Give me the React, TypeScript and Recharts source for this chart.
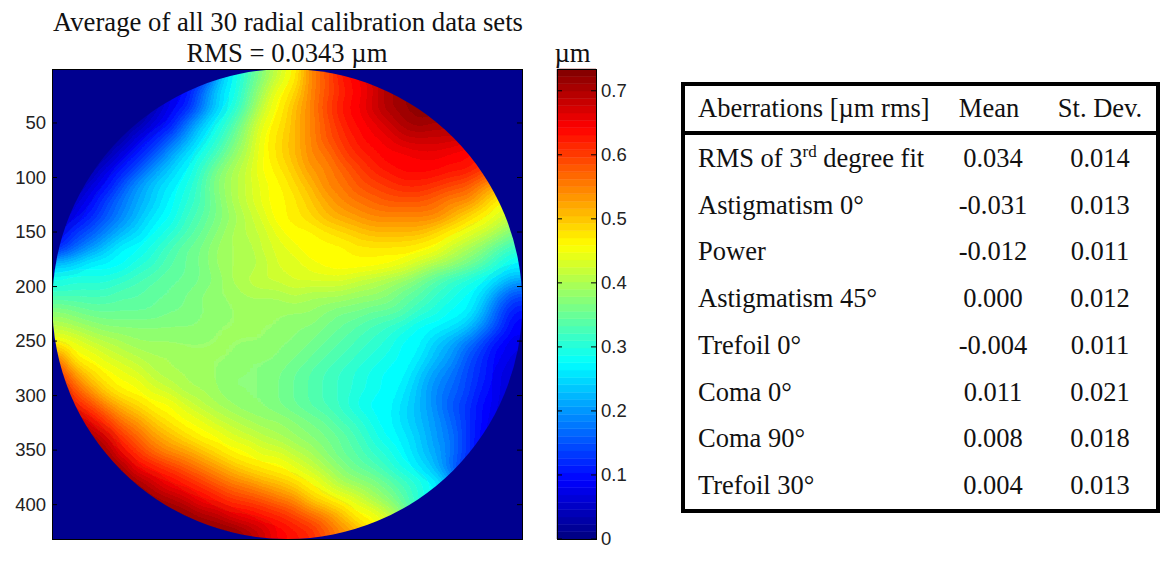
// App.tsx - radial calibration surface map, colorbar and aberrations table
import React from "react";
import { BarChart, Bar, CartesianGrid, ScatterChart, Scatter, XAxis, YAxis } from "recharts";

const SERIF = "'Liberation Serif', 'Times New Roman', serif";
const SANS = "'Liberation Sans', Arial, sans-serif";

const axisTicks = [50, 100, 150, 200, 250, 300, 350, 400];
const barTicks = [0, 0.1, 0.2, 0.3, 0.4, 0.5, 0.6, 0.7];
const MAX_UM = 0.734;
const MAX_PX = 431;

// surface height in um on a 30x30 grid, top row first.
// cells outside the aperture repeat the nearest rim value, the disk clip hides them.
const r00 = [.02,.02,.02,.02,.02,.02,.02,.03,.05,.10,.20,.27,.33,.37,.42,.47,.55,.58,.62,.65,.68,.70,.72,.73,.73,.73,.73,.73,.73,.73];
const r01 = [.02,.02,.02,.02,.02,.02,.03,.06,.10,.17,.23,.28,.34,.39,.45,.49,.54,.58,.61,.64,.67,.70,.72,.73,.73,.73,.73,.73,.73,.73];
const r02 = [.02,.02,.02,.02,.02,.02,.03,.07,.11,.17,.24,.29,.35,.42,.47,.51,.55,.59,.62,.65,.68,.70,.72,.73,.73,.73,.73,.73,.73,.73];
const r03 = [.02,.02,.02,.02,.02,.02,.06,.10,.17,.22,.28,.33,.38,.44,.48,.51,.55,.58,.61,.64,.66,.68,.70,.72,.71,.70,.70,.70,.70,.70];
const r04 = [.02,.02,.02,.02,.02,.07,.11,.16,.20,.26,.30,.35,.40,.45,.485,.51,.55,.58,.60,.63,.65,.665,.68,.685,.685,.68,.67,.66,.66,.66];
const r05 = [.02,.02,.02,.02,.07,.11,.16,.20,.25,.29,.33,.37,.41,.45,.485,.51,.54,.56,.59,.61,.63,.645,.65,.655,.655,.65,.64,.62,.60,.60];
const r06 = [.02,.02,.02,.07,.11,.16,.20,.24,.27,.31,.36,.39,.42,.45,.475,.50,.53,.55,.57,.59,.61,.63,.64,.64,.635,.63,.62,.60,.58,.56];
const r07 = [.02,.02,.06,.10,.15,.20,.24,.26,.29,.33,.37,.40,.42,.445,.465,.49,.515,.54,.56,.58,.59,.60,.61,.61,.605,.595,.58,.55,.52,.50];
const r08 = [.02,.05,.09,.14,.18,.21,.24,.27,.30,.33,.36,.39,.415,.44,.46,.48,.50,.525,.545,.56,.57,.58,.58,.58,.57,.55,.54,.51,.47,.44];
const r09 = [.04,.07,.12,.16,.19,.22,.26,.285,.31,.34,.365,.385,.41,.435,.46,.475,.49,.505,.52,.535,.545,.55,.55,.55,.54,.52,.49,.46,.43,.41];
const r10 = [.08,.13,.16,.19,.22,.25,.28,.305,.33,.35,.375,.39,.405,.42,.445,.46,.47,.48,.49,.50,.51,.515,.515,.505,.49,.47,.445,.42,.39,.36];
const r11 = [.12,.17,.20,.24,.265,.285,.305,.325,.345,.36,.38,.39,.40,.415,.43,.445,.46,.465,.47,.48,.48,.48,.475,.465,.45,.42,.40,.37,.34,.31];
const r12 = [.24,.25,.27,.275,.285,.305,.32,.335,.35,.365,.38,.39,.40,.41,.425,.435,.445,.455,.46,.46,.46,.455,.44,.42,.40,.38,.36,.34,.30,.27];
const r13 = [.29,.30,.30,.305,.315,.325,.335,.345,.355,.365,.375,.39,.405,.415,.42,.425,.43,.43,.425,.42,.41,.395,.38,.36,.34,.32,.30,.28,.25,.21];
const r14 = [.33,.33,.33,.33,.335,.34,.35,.355,.365,.37,.38,.385,.39,.395,.40,.405,.40,.395,.39,.385,.38,.37,.355,.335,.315,.30,.28,.245,.19,.14];
const r15 = [.37,.36,.35,.345,.345,.35,.355,.36,.365,.37,.375,.38,.38,.385,.385,.385,.38,.375,.365,.36,.35,.345,.335,.32,.30,.285,.265,.22,.16,.11];
const r16 = [.41,.40,.385,.375,.37,.37,.37,.37,.375,.375,.38,.38,.38,.38,.38,.375,.37,.365,.35,.34,.33,.32,.305,.285,.275,.255,.23,.19,.14,.09];
const r17 = [.46,.44,.42,.405,.395,.385,.385,.38,.38,.38,.38,.38,.38,.38,.375,.37,.36,.35,.335,.325,.31,.30,.285,.275,.24,.21,.18,.145,.10,.07];
const r18 = [.56,.47,.45,.435,.42,.405,.395,.39,.385,.38,.38,.38,.375,.375,.37,.365,.355,.34,.325,.315,.305,.295,.285,.26,.225,.195,.16,.125,.09,.06];
const r19 = [.60,.53,.49,.465,.445,.43,.41,.40,.39,.385,.38,.375,.375,.37,.365,.355,.34,.325,.315,.305,.295,.285,.27,.235,.205,.175,.145,.115,.08,.05];
const r20 = [.68,.58,.53,.49,.47,.45,.43,.415,.40,.39,.38,.375,.375,.37,.365,.355,.34,.325,.31,.30,.29,.28,.26,.225,.19,.165,.14,.105,.08,.05];
const r21 = [.72,.63,.59,.54,.51,.485,.465,.45,.43,.41,.395,.385,.375,.37,.365,.355,.34,.325,.31,.295,.285,.275,.25,.22,.19,.16,.13,.095,.07,.03];
const r22 = [.74,.72,.65,.60,.56,.53,.50,.475,.455,.44,.42,.405,.395,.385,.38,.37,.36,.345,.33,.315,.295,.275,.25,.22,.195,.165,.13,.095,.06,.03];
const r23 = [.74,.74,.72,.67,.60,.57,.535,.51,.485,.465,.45,.43,.42,.405,.395,.385,.375,.36,.345,.325,.30,.28,.255,.23,.205,.175,.135,.09,.06,.03];
const r24 = [.74,.74,.74,.72,.65,.60,.57,.55,.53,.51,.49,.47,.45,.435,.425,.405,.39,.375,.355,.335,.32,.30,.27,.24,.21,.175,.13,.09,.06,.03];
const r25 = [.74,.74,.74,.74,.72,.645,.62,.60,.58,.555,.53,.51,.49,.475,.46,.44,.42,.395,.375,.355,.34,.32,.29,.255,.22,.17,.12,.09,.06,.03];
const r26 = [.74,.74,.74,.74,.74,.72,.68,.645,.62,.60,.58,.56,.545,.525,.505,.485,.465,.43,.40,.385,.37,.35,.325,.30,.27,.21,.12,.09,.06,.03];
const r27 = [.74,.74,.74,.74,.74,.74,.72,.71,.68,.65,.63,.605,.59,.575,.56,.54,.50,.48,.45,.425,.395,.375,.34,.30,.27,.21,.12,.09,.06,.03];
const r28 = [.74,.74,.74,.74,.74,.74,.74,.74,.73,.71,.69,.66,.645,.625,.61,.59,.565,.54,.505,.47,.45,.42,.37,.30,.27,.21,.12,.09,.06,.03];
const r29 = [.74,.74,.74,.74,.74,.74,.74,.74,.74,.74,.74,.73,.70,.68,.65,.63,.61,.58,.55,.52,.48,.44,.38,.30,.27,.21,.12,.09,.06,.03];
const surface = [r00,r01,r02,r03,r04,r05,r06,r07,r08,r09,r10,r11,r12,r13,r14,r15,r16,r17,r18,r19,r20,r21,r22,r23,r24,r25,r26,r27,r28,r29];

const rowNames = [
  "Astigmatism 0°",
  "Power",
  "Astigmatism 45°",
  "Trefoil 0°",
  "Coma 0°",
  "Coma 90°",
  "Trefoil 30°",
];
const means = ["0.034", "-0.031", "-0.012", "0.000", "-0.004", "0.011", "0.008", "0.004"];
const stDevs = ["0.014", "0.013", "0.011", "0.012", "0.011", "0.021", "0.018", "0.013"];

const N = surface.length;
const points = surface.flatMap((vals, row) =>
  vals.map((v, col) => ({
    x: 0.5 + ((col + 0.5) * MAX_PX) / N,
    y: 0.5 + ((row + 0.5) * MAX_PX) / N,
    v,
    col,
    row,
  }))
);

// jet, 64 steps like the matlab default
function jet(v: number) {
  const level = Math.min(63, Math.max(0, Math.floor((v / MAX_UM) * 64)));
  const t = (level + 0.5) / 64;
  const ch = (c: number) => Math.round(255 * Math.max(0, Math.min(1, 1.5 - Math.abs(4 * t - c))));
  return `rgb(${ch(3)},${ch(2)},${ch(1)})`;
}

const colorLevels = Array.from({ length: 64 }, (_, i) => `l${i}`);
const colorbarRow = [Object.fromEntries(colorLevels.map((k) => [k, MAX_UM / 64]))];

// 16 steps per channel ramp gives the contour bands of the 64 level colormap
const bandTable = Array.from({ length: 17 }, (_, i) => (i / 16).toFixed(4)).join(" ");

const PLOT = { left: 52, top: 69, size: 470 };
const CELL = PLOT.size / N;

function HeatCell(props: any) {
  const { cx, cy, payload } = props;
  const { col, row, v } = payload;
  // edge cells run on past the frame so the blur does not fade at the rim
  const x0 = cx - CELL / 2 - 0.5 - (col === 0 ? 30 : 0);
  const x1 = cx + CELL / 2 + 0.5 + (col === N - 1 ? 30 : 0);
  const y0 = cy - CELL / 2 - 0.5 - (row === 0 ? 30 : 0);
  const y1 = cy + CELL / 2 + 0.5 + (row === N - 1 ? 30 : 0);
  return <rect x={x0} y={y0} width={x1 - x0} height={y1 - y0} fill={jet(v)} />;
}

function BottomTick(props: any) {
  const { x, y, payload } = props;
  return (
    <g>
      <line x1={x} x2={x} y1={y} y2={y - 5} stroke="#000" />
      <line x1={x} x2={x} y1={y - PLOT.size} y2={y - PLOT.size + 5} stroke="#000" />
      <text x={x} y={y + 22} textAnchor="middle" fontFamily={SANS} fontSize={18.5} fill="#222">
        {payload.value}
      </text>
    </g>
  );
}

function LeftTick(props: any) {
  const { x, y, payload } = props;
  return (
    <g>
      <line x1={x} x2={x + 5} y1={y} y2={y} stroke="#000" />
      <line x1={x + PLOT.size} x2={x + PLOT.size - 5} y1={y} y2={y} stroke="#000" />
      <text x={x - 6} y={y + 6} textAnchor="end" fontFamily={SANS} fontSize={18.5} fill="#222">
        {payload.value}
      </text>
    </g>
  );
}

function BarTick(props: any) {
  const { x, y, payload } = props;
  return (
    <g>
      <line x1={x} x2={x - 5} y1={y} y2={y} stroke="#000" />
      <line x1={x - 39} x2={x - 34} y1={y} y2={y} stroke="#000" />
      <text x={x + 5} y={y + 6} fontFamily={SANS} fontSize={18.5} fill="#222">
        {payload.value}
      </text>
    </g>
  );
}

function TableBox() {
  const rowY = (i: number) => 167 + i * 46.7;
  return (
    <g fontFamily={SERIF} fontSize={26.5} fill="#111">
      <rect x={683} y={84} width={475} height={427} fill="none" stroke="#000" strokeWidth={4} />
      <line x1={683} x2={1158} y1={133} y2={133} stroke="#000" strokeWidth={4} />
      <text x={698} y={117}>Aberrations [µm rms]</text>
      <text x={989} y={117} textAnchor="middle">Mean</text>
      <text x={1100} y={117} textAnchor="middle">St. Dev.</text>
      <text x={698} y={rowY(0)}>
        RMS of 3<tspan fontSize={17} dy={-10}>rd</tspan>
        <tspan dy={10}> degree fit</tspan>
      </text>
      {rowNames.map((name, i) => (
        <text key={name} x={698} y={rowY(i + 1)}>{name}</text>
      ))}
      {means.map((m, i) => (
        <text key={i} x={993} y={rowY(i)} textAnchor="middle">{m}</text>
      ))}
      {stDevs.map((s, i) => (
        <text key={i} x={1100} y={rowY(i)} textAnchor="middle">{s}</text>
      ))}
    </g>
  );
}

export default function App() {
  return (
    <div style={{ position: "absolute", left: 0, top: 0, width: 1160, height: 571, background: "#fff" }}>
      <style>{`.heat .recharts-scatter { filter: url(#smooth); clip-path: url(#disk); }`}</style>
      <svg width={0} height={0} style={{ position: "absolute" }}>
        <defs>
          <filter id="smooth" filterUnits="userSpaceOnUse" x={0} y={0} width={600} height={600} colorInterpolationFilters="sRGB">
            <feGaussianBlur stdDeviation={8} />
            <feComponentTransfer>
              <feFuncR type="discrete" tableValues={bandTable} />
              <feFuncG type="discrete" tableValues={bandTable} />
              <feFuncB type="discrete" tableValues={bandTable} />
            </feComponentTransfer>
          </filter>
          <clipPath id="disk">
            <circle cx={287.3} cy={304} r={235} />
          </clipPath>
        </defs>
      </svg>

      <div className="heat" style={{ position: "absolute", left: 0, top: 0 }}>
        <ScatterChart width={540} height={571} margin={{ top: PLOT.top, left: 12, right: 18, bottom: 32 }}>
          <CartesianGrid horizontal={false} vertical={false} fill="#00008f" />
          <Scatter data={points} shape={HeatCell} isAnimationActive={false} />
          <XAxis
            type="number"
            dataKey="x"
            domain={[0.5, MAX_PX + 0.5]}
            ticks={axisTicks}
            height={0}
            tickSize={0}
            tickMargin={0}
            tickLine={false}
            axisLine={false}
            tick={BottomTick}
            interval={0}
          />
          <YAxis
            type="number"
            dataKey="y"
            reversed
            domain={[0.5, MAX_PX + 0.5]}
            ticks={axisTicks}
            width={40}
            tickSize={0}
            tickMargin={0}
            tickLine={false}
            axisLine={false}
            tick={LeftTick}
            interval={0}
          />
        </ScatterChart>
      </div>

      <div style={{ position: "absolute", left: 540, top: 0 }}>
        <BarChart
          width={100}
          height={571}
          data={colorbarRow}
          barCategoryGap={0}
          margin={{ top: PLOT.top, left: 17, right: 0, bottom: 32 }}
        >
          {colorLevels.map((k, i) => {
            const c = jet((i + 0.5) * (MAX_UM / 64));
            return <Bar key={k} dataKey={k} stackId="cb" fill={c} stroke={c} strokeWidth={0.5} isAnimationActive={false} />;
          })}
          <XAxis hide />
          <YAxis
            orientation="right"
            domain={[0, MAX_UM]}
            ticks={barTicks}
            width={44}
            tickSize={0}
            tickMargin={0}
            tickLine={false}
            axisLine={false}
            tick={BarTick}
            interval={0}
          />
        </BarChart>
      </div>

      <svg width={1160} height={571} style={{ position: "absolute", left: 0, top: 0, pointerEvents: "none" }}>
        <rect x={52.5} y={69.5} width={470} height={470} fill="none" stroke="#000" />
        <rect x={557.5} y={69.5} width={39} height={470} fill="none" stroke="#000" />
        <g fontFamily={SERIF} fontSize={26.7} fill="#111" textAnchor="middle">
          <text x={288} y={31}>Average of all 30 radial calibration data sets</text>
          <text x={287} y={62}>RMS = 0.0343 µm</text>
          <text x={572.5} y={62}>µm</text>
        </g>
        <TableBox />
      </svg>
    </div>
  );
}
